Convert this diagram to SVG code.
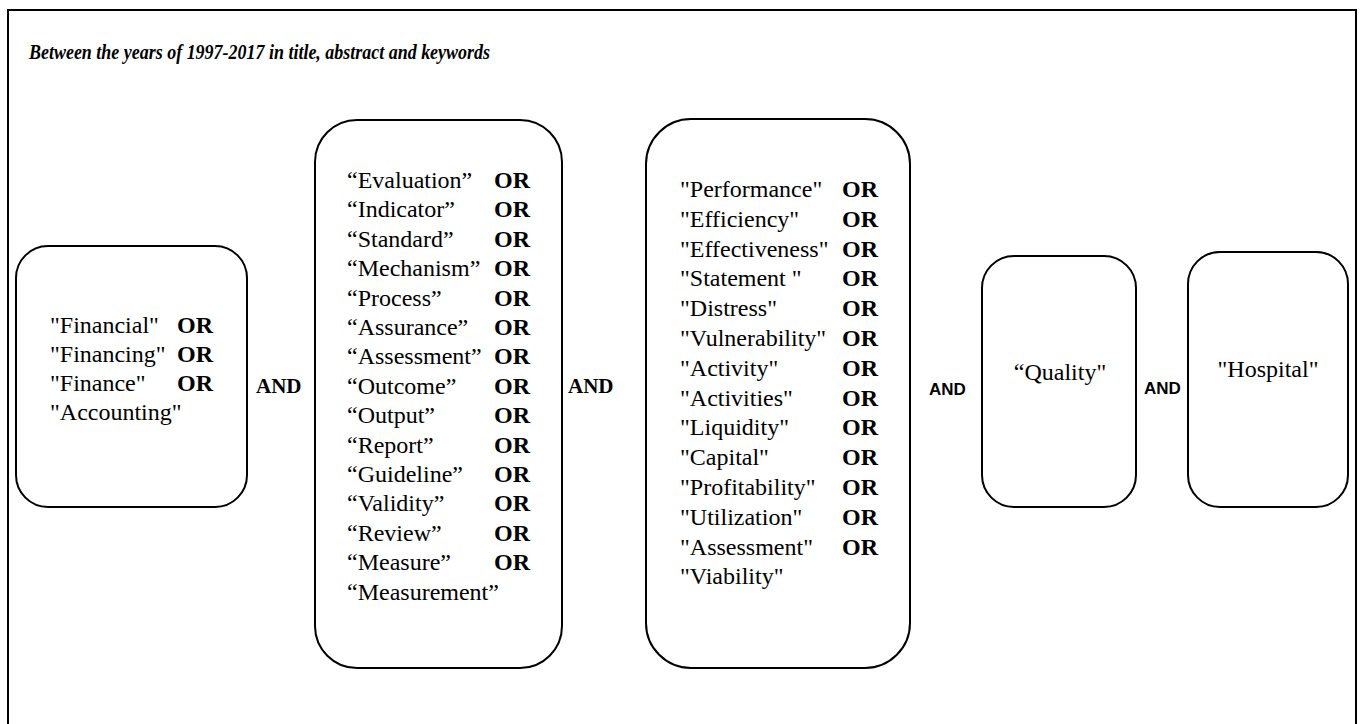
<svg xmlns="http://www.w3.org/2000/svg" width="1361" height="724" viewBox="0 0 1361 724">
<style>
.box{fill:#fff;stroke:#000;stroke-width:2}
.t{font-family:"Liberation Serif","Times New Roman",serif;font-size:24px;fill:#000}
.or{font-family:"Liberation Serif","Times New Roman",serif;font-size:24px;font-weight:bold;fill:#000}
.ands{font-family:"Liberation Serif","Times New Roman",serif;font-size:21px;font-weight:bold;fill:#000}
.andsans{font-family:"Liberation Sans",Arial,sans-serif;font-size:17px;font-weight:bold;fill:#000}
.title{font-family:"Liberation Serif","Times New Roman",serif;font-size:22px;font-weight:bold;font-style:italic;fill:#000}
</style>
<rect x="0" y="0" width="1361" height="724" fill="#fff"/>
<rect id="frame" x="8" y="10" width="1348" height="730" fill="none" stroke="#000" stroke-width="2"/>
<text id="title" class="title" x="29" y="59" textLength="461" lengthAdjust="spacingAndGlyphs">Between the years of 1997-2017 in title, abstract and keywords</text>

<g id="node-finance">
<rect class="box" x="16" y="246" width="231" height="261" rx="32" ry="32"/>
<text class="t" x="50" y="333">"Financial"</text><text class="or" x="177" y="333">OR</text>
<text class="t" x="50" y="362">"Financing"</text><text class="or" x="177" y="362">OR</text>
<text class="t" x="50" y="391">"Finance"</text><text class="or" x="177" y="391">OR</text>
<text class="t" x="50" y="420">"Accounting"</text>
</g>

<g id="node-evaluation">
<rect class="box" x="315" y="120" width="247" height="548" rx="42" ry="42"/>
<text class="t" x="347" y="188">“Evaluation”</text><text class="or" x="494" y="188">OR</text>
<text class="t" x="347" y="217.4">“Indicator”</text><text class="or" x="494" y="217.4">OR</text>
<text class="t" x="347" y="246.8">“Standard”</text><text class="or" x="494" y="246.8">OR</text>
<text class="t" x="347" y="276.2">“Mechanism”</text><text class="or" x="494" y="276.2">OR</text>
<text class="t" x="347" y="305.6">“Process”</text><text class="or" x="494" y="305.6">OR</text>
<text class="t" x="347" y="335">“Assurance”</text><text class="or" x="494" y="335">OR</text>
<text class="t" x="347" y="364.4">“Assessment”</text><text class="or" x="494" y="364.4">OR</text>
<text class="t" x="347" y="393.8">“Outcome”</text><text class="or" x="494" y="393.8">OR</text>
<text class="t" x="347" y="423.2">“Output”</text><text class="or" x="494" y="423.2">OR</text>
<text class="t" x="347" y="452.6">“Report”</text><text class="or" x="494" y="452.6">OR</text>
<text class="t" x="347" y="482">“Guideline”</text><text class="or" x="494" y="482">OR</text>
<text class="t" x="347" y="511.4">“Validity”</text><text class="or" x="494" y="511.4">OR</text>
<text class="t" x="347" y="540.8">“Review”</text><text class="or" x="494" y="540.8">OR</text>
<text class="t" x="347" y="570.2">“Measure”</text><text class="or" x="494" y="570.2">OR</text>
<text class="t" x="347" y="599.6">“Measurement”</text>
</g>

<g id="node-performance">
<rect class="box" x="646" y="119" width="264" height="549" rx="45" ry="45"/>
<text class="t" x="680" y="197">"Performance"</text><text class="or" x="842" y="197">OR</text>
<text class="t" x="680" y="226.8">"Efficiency"</text><text class="or" x="842" y="226.8">OR</text>
<text class="t" x="680" y="256.6">"Effectiveness"</text><text class="or" x="842" y="256.6">OR</text>
<text class="t" x="680" y="286.4">"Statement "</text><text class="or" x="842" y="286.4">OR</text>
<text class="t" x="680" y="316.2">"Distress"</text><text class="or" x="842" y="316.2">OR</text>
<text class="t" x="680" y="346">"Vulnerability"</text><text class="or" x="842" y="346">OR</text>
<text class="t" x="680" y="375.8">"Activity"</text><text class="or" x="842" y="375.8">OR</text>
<text class="t" x="680" y="405.6">"Activities"</text><text class="or" x="842" y="405.6">OR</text>
<text class="t" x="680" y="435.4">"Liquidity"</text><text class="or" x="842" y="435.4">OR</text>
<text class="t" x="680" y="465.2">"Capital"</text><text class="or" x="842" y="465.2">OR</text>
<text class="t" x="680" y="495">"Profitability"</text><text class="or" x="842" y="495">OR</text>
<text class="t" x="680" y="524.8">"Utilization"</text><text class="or" x="842" y="524.8">OR</text>
<text class="t" x="680" y="554.6">"Assessment"</text><text class="or" x="842" y="554.6">OR</text>
<text class="t" x="680" y="584.4">"Viability"</text>
</g>

<g id="node-quality">
<rect class="box" x="982" y="256" width="154" height="251" rx="32" ry="32"/>
<text class="t" x="1060" y="380" text-anchor="middle">“Quality"</text>
</g>

<g id="node-hospital">
<rect class="box" x="1188" y="252" width="160" height="255" rx="32" ry="32"/>
<text class="t" x="1268" y="377" text-anchor="middle">"Hospital"</text>
</g>

<g id="connectors">
<text class="ands" x="256" y="393">AND</text>
<text class="ands" x="568" y="393">AND</text>
<text class="andsans" x="929" y="395">AND</text>
<text class="andsans" x="1144" y="394">AND</text>
</g>
</svg>
